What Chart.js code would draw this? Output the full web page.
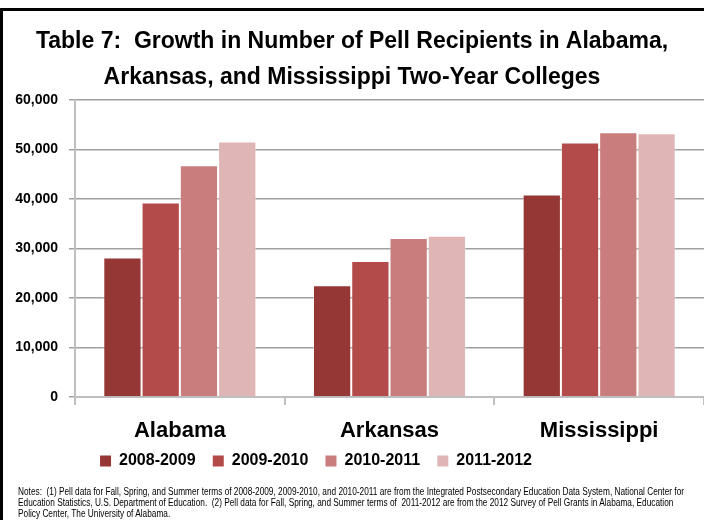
<!DOCTYPE html>
<html>
<head>
<meta charset="utf-8">
<script src="https://cdn.jsdelivr.net/npm/chart.js@4.4.1/dist/chart.umd.min.js"></script>
<style>
  html, body { margin: 0; padding: 0; background: #fff; overflow: hidden; }
  #page { position: relative; width: 704px; height: 520px; overflow: hidden; }
  #frame {
    position: absolute; left: 0; top: 8px; width: 720px; height: 540px;
    border-left: 3px solid #000; border-top: 3px solid #000;
  }
  #chartBox { position: absolute; left: 0; top: 0; width: 704px; height: 520px; }
  #notes {
    position: absolute; left: 18px; top: 486px; display: inline-block;
    font-family: "Liberation Sans", Arial, sans-serif;
    font-size: 10px; line-height: 11px; color: #000; white-space: pre;
    transform-origin: 0 0;
  }
</style>
</head>
<body>
<div id="page">
  <div id="frame"></div>
  <div id="chartBox"><canvas id="chart"></canvas></div>
  <div id="notes">Notes:  (1) Pell data for Fall, Spring, and Summer terms of 2008-2009, 2009-2010, and 2010-2011 are from the Integrated Postsecondary Education Data System, National Center for
Education Statistics, U.S. Department of Education.  (2) Pell data for Fall, Spring, and Summer terms of  2011-2012 are from the 2012 Survey of Pell Grants in Alabama, Education
Policy Center, The University of Alabama.</div>
</div>
<script>
  "use strict";

  // данные
  const states = ["Alabama", "Arkansas", "Mississippi"];
  const years = ["2008-2009", "2009-2010", "2010-2011", "2011-2012"];
  const pell0809 = [28200, 22600, 40900];
  const pell0910 = [39300, 27500, 51400];
  const pell1011 = [46800, 32100, 53500];
  const pell1112 = [51600, 32600, 53300];
  const yTicks = [0, 10000, 20000, 30000, 40000, 50000, 60000];

  const barColors = ["#953735", "#B24B49", "#C97D7C", "#DFB5B5"];
  const sans = "'Liberation Sans', Arial, sans-serif";

  const series = [pell0809, pell0910, pell1011, pell1112];

  // в оригинале узкий шрифт (Arial Narrow) — сжимаем примечания по ширине
  const notesEl = document.getElementById("notes");
  const notesW = notesEl.getBoundingClientRect().width;
  notesEl.style.transform = "scaleX(" + (666 / notesW).toFixed(4) + ")";

  // Excel сдвинул легенду левее центра и чуть вверх
  const legendNudge = {
    id: "legendNudge",
    afterLayout(chart) {
      const lg = chart.legend;
      if (!lg) return;
      lg.left -= 36;
      lg.right -= 36;
      lg.top -= 11.2;
      lg.bottom -= 11.2;
    },
  };

  new Chart(document.getElementById("chart"), {
    type: "bar",
    data: {
      labels: states,
      datasets: years.map((yr, i) => ({
        label: yr,
        data: series[i],
        backgroundColor: barColors[i],
        borderColor: "rgba(255,255,255,0.35)",
        borderWidth: 1,
        categoryPercentage: 0.73,
        barPercentage: 1,
      })),
    },
    options: {
      responsive: true,
      maintainAspectRatio: false,
      animation: false,
      layout: { padding: { top: 0, left: 0, right: 0, bottom: 29.8 } },
      plugins: {
        title: {
          display: true,
          text: [
            "Table 7:  Growth in Number of Pell Recipients in Alabama,",
            "Arkansas, and Mississippi Two-Year Colleges",
          ],
          color: "#000",
          font: { family: sans, size: 23, weight: "bold", lineHeight: "35.5px" },
          padding: { top: 24.25, bottom: 4.75 },
        },
        legend: {
          position: "bottom",
          labels: {
            color: "#000",
            font: { family: sans, size: 16, weight: "bold" },
            boxWidth: 11,
            boxHeight: 11,
            padding: 17.2,
            generateLabels(chart) {
              return Chart.defaults.plugins.legend.labels
                .generateLabels(chart)
                .map((l) => ({ ...l, lineWidth: 0, strokeStyle: "transparent" }));
            },
          },
        },
        tooltip: { enabled: false },
      },
      scales: {
        x: {
          grid: {
            display: true,
            drawOnChartArea: false,
            drawTicks: true,
            tickLength: 8,
            color: "#BFBFBF",
            lineWidth: 2,
          },
          border: { color: "#BFBFBF", width: 2 },
          ticks: {
            color: "#000",
            font: { family: sans, size: 22, weight: "bold" },
            padding: 12.8,
            maxRotation: 0,
            autoSkip: false,
          },
          afterFit(scale) {
            scale.height = 50;
          },
        },
        y: {
          min: 0,
          max: 60000,
          afterBuildTicks(scale) {
            scale.ticks = yTicks.map((v) => ({ value: v }));
          },
          grid: {
            color: (ctx) => (ctx.tick && ctx.tick.value === 0 ? "rgba(0,0,0,0)" : "#A0A0A0"),
            tickColor: "#A0A0A0",
            lineWidth: 1.5,
            tickLength: 6,
          },
          border: { color: "#BFBFBF", width: 2 },
          ticks: {
            color: "#000",
            font: { family: sans, size: 14, weight: "bold" },
            padding: 11,
            callback(v) {
              return Number(v).toLocaleString("en-US");
            },
          },
          afterFit(scale) {
            scale.width = 75;
          },
        },
      },
    },
    plugins: [legendNudge],
  });
</script>
</body>
</html>
